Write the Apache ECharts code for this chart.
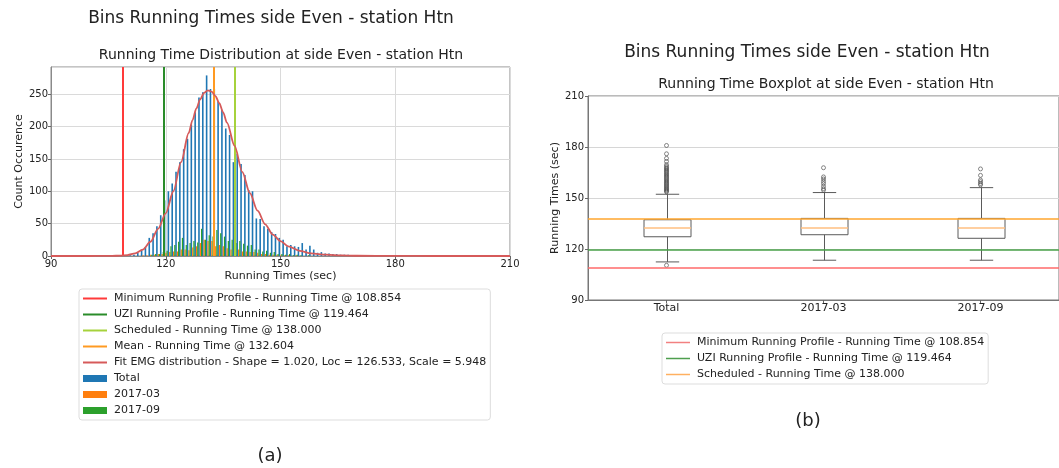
<!DOCTYPE html>
<html>
<head>
<meta charset="utf-8">
<title>Bins Running Times side Even - station Htn</title>
<script src="https://cdn.jsdelivr.net/npm/echarts@6/dist/echarts.min.js"></script>
<style>
  html, body { margin: 0; padding: 0; background: #ffffff; }
  #chart { width: 1059px; height: 468px; }
</style>
</head>
<body>
<div id="chart"></div>
<script>
// Histogram bins (one-second bins, centre of each bin in seconds)
const binTimes = [110,111,112,113,114,115,116,117,118,119,120,121,122,123,124,125,126,127,128,129,
  130,131,132,133,134,135,136,137,138,139,140,141,142,143,144,145,146,147,148,149,
  150,151,152,153,154,155,156,157,158,159,160,161,162,163,164,165,166,167,168,169,
  170,171,172,173,174,175,176,177,178,179,180,181];
const totalCounts = [1,1,2,5,9,14,28,35,46,63,86,100,112,130,145,165,181,203,222,245,
  253,279,258,258,239,226,197,187,145,158,142,125,102,100,58,57,46,42,37,34,
  28,25,15,17,15,14,20,10,16,10,5,6,4,4,3,3,2,2,2,1,
  1,1,0,1,0,0,1,0,0,0,0,1];
const mar2017Counts = [0,0,0,0,1,1,2,2,3,3,5,6,7,7,10,10,9,13,15,20,
  25,23,23,15,17,15,12,10,12,10,7,7,6,6,5,3,3,2,2,2,
  1,1,1,0,1,0,0,0,0,0,0,0,0,0,0,0,0,0,0,0,
  0,0,0,0,0,0,0,0,0,0,0,0];
const sep2017Counts = [0,0,0,0,0,0,2,3,3,6,8,15,17,22,28,17,20,23,21,42,
  25,32,30,40,35,30,23,25,20,23,19,16,17,10,10,7,8,5,6,3,
  3,2,3,1,2,1,0,1,0,0,0,0,0,0,0,0,0,0,0,0,
  0,0,0,0,0,0,0,0,0,0,0,0];

// Fitted EMG curve, in counts per bin
const fitTimes  = [90,100,104,106,108,110,112,114,116,118,120,122,124,126,127,128,129,130,131,132,
  133,134,135,136,138,140,142,144,146,148,150,152,155,158,162,166,170,180,190,210];
const fitCounts = [0,0,0.1,0.2,0.6,1.5,4,10,22,42,66,100,145,190,210,228,242,252,256,254,
  247,236,222,206,170,130,97,70,49,33,23,15,8,4,2,1,0.4,0.1,0,0];

// Reference running times (sec)
const minRunningTime = 108.854;
const uziRunningTime = 119.464;
const scheduledTime = 138.000;
const meanRunningTime = 132.604;
const emgShape = 1.020, emgLoc = 126.533, emgScale = 5.948;

// Axis ticks
const histXTicks = { min: 90, max: 210, step: 30 };
const histYTicks = { min: 0, max: 292, step: 50 };
const boxYTicks = { min: 90, max: 210, step: 30 };

// Boxplot statistics per group
const boxCategories = ['Total', '2017-03', '2017-09'];
const boxLow    = [112.4, 113.4, 113.4];
const boxQ1     = [127.2, 128.4, 126.3];
const boxMedian = [132.3, 132.3, 132.3];
const boxQ3     = [137.2, 138.0, 138.0];
const boxHigh   = [152.2, 153.2, 156.1];
const outliersTotal = [110.4, 153.6, 154.2, 154.8, 155.4, 156.0, 156.7, 157.3, 158.0, 158.6, 159.3,
  160.0, 160.7, 161.4, 162.1, 162.8, 163.5, 164.2, 165.0, 165.7, 166.4, 167.1, 167.8, 168.6,
  169.6, 171.5, 173.3, 176.0, 180.9];
const outliersMar2017 = [154.6, 155.5, 156.9, 158.5, 159.8, 161.2, 162.4, 167.8];
const outliersSep2017 = [157.7, 158.5, 159.6, 160.6, 163.3, 167.1];

const FONT = 'DejaVu Sans';
const TEXT = '#222222';

// Legend glyphs: a thin stroke for lines, a filled block for histogram bars
const LINE_ICON = 'path://M0,0H24V2H0Z';
const THIN_LINE_ICON = 'path://M0,0H48V3H0Z';

const nameMin = 'Minimum Running Profile - Running Time @ ' + minRunningTime.toFixed(3);
const nameUzi = 'UZI Running Profile - Running Time @ ' + uziRunningTime.toFixed(3);
const nameSched = 'Scheduled - Running Time @ ' + scheduledTime.toFixed(3);
const nameMean = 'Mean - Running Time @ ' + meanRunningTime.toFixed(3);
const nameFit = 'Fit EMG distribution - Shape = ' + emgShape.toFixed(3) + ', Loc = ' +
  emgLoc.toFixed(3) + ', Scale = ' + emgScale.toFixed(3);

const pairs = (xs, ys) => xs.map((x, i) => [x, ys[i]]);

function vLine(name, value, color) {
  return {
    name: name, type: 'line', xAxisIndex: 0, yAxisIndex: 0, data: [], symbol: 'none',
    itemStyle: { color: color }, lineStyle: { color: color, width: 2 }, z: 5,
    markLine: {
      silent: true, symbol: 'none', animation: false, label: { show: false },
      lineStyle: { color: color, width: 2, type: 'solid' },
      data: [{ xAxis: value }]
    }
  };
}
function hLine(name, value, color) {
  return {
    name: name, type: 'line', xAxisIndex: 1, yAxisIndex: 1, data: [], symbol: 'none',
    itemStyle: { color: color }, lineStyle: { color: color, width: 1.5 }, z: 5,
    markLine: {
      silent: true, symbol: 'none', animation: false, label: { show: false },
      lineStyle: { color: color, width: 1.5, type: 'solid' },
      data: [{ yAxis: value }]
    }
  };
}

const boxRows = boxCategories.map((c, i) => [i, boxLow[i], boxQ1[i], boxMedian[i], boxQ3[i], boxHigh[i]]);
const outlierPoints = []
  .concat(outliersTotal.map(v => [0, v]))
  .concat(outliersMar2017.map(v => [1, v]))
  .concat(outliersSep2017.map(v => [2, v]));

function renderBox(params, api) {
  const cat = api.value(0);
  const pLow = api.coord([cat, api.value(1)]);
  const pQ1 = api.coord([cat, api.value(2)]);
  const pMed = api.coord([cat, api.value(3)]);
  const pQ3 = api.coord([cat, api.value(4)]);
  const pHigh = api.coord([cat, api.value(5)]);
  const x = Math.round(pQ1[0]) + 0.5;
  const hw = 23.5, cw = 11.7;
  const stroke = { stroke: '#5a5a5a', lineWidth: 1, fill: 'none' };
  return {
    type: 'group',
    children: [
      { type: 'line', shape: { x1: x, y1: pQ1[1], x2: x, y2: pLow[1] }, style: stroke },
      { type: 'line', shape: { x1: x, y1: pQ3[1], x2: x, y2: pHigh[1] }, style: stroke },
      { type: 'line', shape: { x1: x - cw, y1: pLow[1], x2: x + cw, y2: pLow[1] }, style: stroke },
      { type: 'line', shape: { x1: x - cw, y1: pHigh[1], x2: x + cw, y2: pHigh[1] }, style: stroke },
      { type: 'rect', shape: { x: x - hw, y: pQ3[1], width: 2 * hw, height: pQ1[1] - pQ3[1] }, style: stroke },
      { type: 'line', shape: { x1: x - hw, y1: pMed[1], x2: x + hw, y2: pMed[1] },
        style: { stroke: '#ffbf80', lineWidth: 1.5 } }
    ]
  };
}

function label(text, x, y, size) {
  return {
    type: 'text', x: x, y: y, silent: true,
    style: { text: text, fontFamily: FONT, fontSize: size, fill: TEXT,
             align: 'center', verticalAlign: 'middle' }
  };
}

const axisText = { fontFamily: FONT, fontSize: 10, color: TEXT };
const nameText = { fontFamily: FONT, fontSize: 11, color: TEXT };
const legendBase = {
  orient: 'vertical', selectedMode: false, symbolKeepAspect: true,
  itemWidth: 24, itemHeight: 7, itemGap: 5, padding: [4, 4, 4, 4],
  backgroundColor: '#ffffff', borderColor: '#dddddd', borderWidth: 1, borderRadius: 3,
  itemStyle: { borderWidth: 0 },
  textStyle: { fontFamily: FONT, fontSize: 11, color: TEXT, padding: [0, 0, 0, 2] }
};

const chart = echarts.init(document.getElementById('chart'), null, { renderer: 'canvas' });
chart.setOption({
  animation: false,
  backgroundColor: '#ffffff',
  textStyle: { fontFamily: FONT },
  graphic: [
    label('Bins Running Times side Even - station Htn', 271, 19, 17),
    label('Running Time Distribution at side Even - station Htn', 281, 55, 14),
    label('Bins Running Times side Even - station Htn', 807, 53, 17),
    label('Running Time Boxplot at side Even - station Htn', 826, 84, 14),
    label('(a)', 270, 456, 18),
    label('(b)', 808, 421, 18)
  ],
  grid: [
    { left: 51, top: 67, width: 459, height: 189, show: true, borderColor: '#8a8a8a', borderWidth: 1 },
    { left: 588, top: 96, width: 476, height: 204, show: true, borderColor: '#777777', borderWidth: 1 }
  ],
  legend: [
    Object.assign({}, legendBase, {
      left: 79, top: 289,
      data: [
        { name: nameMin, icon: LINE_ICON, itemStyle: { color: '#ff3a3a' } },
        { name: nameUzi, icon: LINE_ICON, itemStyle: { color: '#2a8c2a' } },
        { name: nameSched, icon: LINE_ICON, itemStyle: { color: '#a6d23c' } },
        { name: nameMean, icon: LINE_ICON, itemStyle: { color: '#ff9a22' } },
        { name: nameFit, icon: LINE_ICON, itemStyle: { color: '#d65a5a' } },
        { name: 'Total', icon: 'rect' }, { name: '2017-03', icon: 'rect' }, { name: '2017-09', icon: 'rect' }
      ]
    }),
    Object.assign({}, legendBase, {
      left: 662, top: 333,
      data: [
        { name: nameMin, icon: THIN_LINE_ICON, itemStyle: { color: '#f28080' } },
        { name: nameUzi, icon: THIN_LINE_ICON, itemStyle: { color: '#4e9f4e' } },
        { name: nameSched, icon: THIN_LINE_ICON, itemStyle: { color: '#ffb060' } }
      ]
    })
  ],
  xAxis: [
    {
      gridIndex: 0, type: 'value', min: histXTicks.min, max: histXTicks.max, interval: histXTicks.step,
      axisLine: { show: true, onZero: false, lineStyle: { color: '#8a8a8a' } },
      axisTick: { show: true, length: 3, lineStyle: { color: '#666666' } },
      axisLabel: Object.assign({ margin: 3 }, axisText),
      splitLine: { show: true, lineStyle: { color: '#dadada' } },
      name: 'Running Times (sec)', nameLocation: 'middle', nameGap: 15, nameTextStyle: nameText
    },
    {
      gridIndex: 1, type: 'category', data: boxCategories, boundaryGap: true,
      axisLine: { show: true, lineStyle: { color: '#777777' } },
      axisTick: { show: true, alignWithLabel: true, length: 3, lineStyle: { color: '#666666' } },
      axisLabel: { fontFamily: FONT, fontSize: 11, color: TEXT, margin: 3 },
      splitLine: { show: false }
    }
  ],
  yAxis: [
    {
      gridIndex: 0, type: 'value', min: histYTicks.min, max: histYTicks.max, interval: histYTicks.step,
      axisLine: { show: true, lineStyle: { color: '#8a8a8a' } },
      axisTick: { show: true, length: 3, lineStyle: { color: '#666666' } },
      axisLabel: Object.assign({ margin: 3, showMaxLabel: false }, axisText),
      splitLine: { show: true, lineStyle: { color: '#dadada' } },
      name: 'Count Occurence', nameLocation: 'middle', nameGap: 26, nameTextStyle: nameText
    },
    {
      gridIndex: 1, type: 'value', min: boxYTicks.min, max: boxYTicks.max, interval: boxYTicks.step,
      axisLine: { show: true, lineStyle: { color: '#777777' } },
      axisTick: { show: true, length: 3, lineStyle: { color: '#666666' } },
      axisLabel: Object.assign({ margin: 4 }, axisText),
      splitLine: { show: true, lineStyle: { color: '#d6d6d6' } },
      name: 'Running Times (sec)', nameLocation: 'middle', nameGap: 27, nameTextStyle: nameText
    }
  ],
  series: [
    { name: 'Total', type: 'bar', xAxisIndex: 0, yAxisIndex: 0, data: pairs(binTimes, totalCounts),
      barWidth: 1.6, barGap: '0%', itemStyle: { color: '#1f77b4' }, z: 2 },
    { name: '2017-03', type: 'bar', xAxisIndex: 0, yAxisIndex: 0, data: pairs(binTimes, mar2017Counts),
      barWidth: 1.2, barGap: '0%', itemStyle: { color: '#ff7f0e' }, z: 2 },
    { name: '2017-09', type: 'bar', xAxisIndex: 0, yAxisIndex: 0, data: pairs(binTimes, sep2017Counts),
      barWidth: 1.2, barGap: '0%', itemStyle: { color: '#2ca02c' }, z: 2 },
    vLine(nameMin, minRunningTime, '#ff3a3a'),
    vLine(nameUzi, uziRunningTime, '#2a8c2a'),
    vLine(nameSched, scheduledTime, '#a6d23c'),
    vLine(nameMean, meanRunningTime, '#ff9a22'),
    { name: nameFit, type: 'line', xAxisIndex: 0, yAxisIndex: 0, data: pairs(fitTimes, fitCounts),
      symbol: 'none', smooth: 0.3, smoothMonotone: 'x', z: 6,
      itemStyle: { color: '#d65a5a' }, lineStyle: { color: '#d65a5a', width: 1.8 } },

    { name: 'box', type: 'custom', xAxisIndex: 1, yAxisIndex: 1, data: boxRows,
      encode: { x: 0, y: [1, 2, 3, 4, 5] }, renderItem: renderBox, z: 3, silent: true },
    { name: 'outliers', type: 'scatter', xAxisIndex: 1, yAxisIndex: 1, data: outlierPoints,
      symbol: 'circle', symbolSize: 4,
      itemStyle: { color: 'rgba(0,0,0,0)', borderColor: '#444444', borderWidth: 0.8 }, z: 3, silent: true },
    hLine(nameMin, minRunningTime, '#ff6a6a'),
    hLine(nameUzi, uziRunningTime, '#48a048'),
    hLine(nameSched, scheduledTime, '#ffa62e')
  ]
});
</script>
</body>
</html>
